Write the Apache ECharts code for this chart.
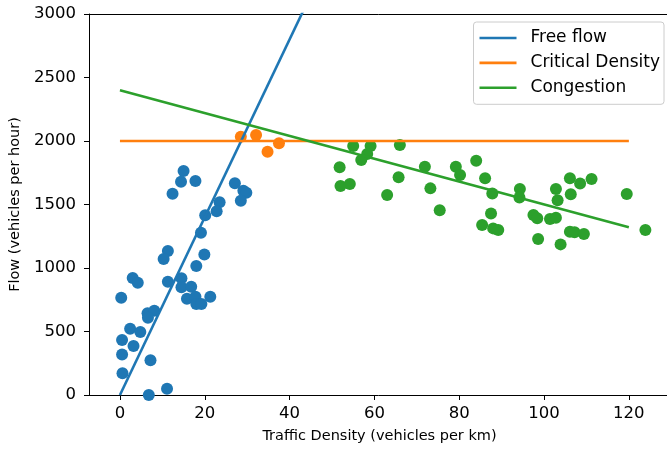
<!DOCTYPE html>
<html>
<head>
<meta charset="utf-8">
<script src="https://cdn.jsdelivr.net/npm/echarts@6/dist/echarts.min.js"></script>
<style>
  html, body { margin: 0; padding: 0; background: #fff; }
  #chart { width: 667px; height: 450px; }
</style>
</head>
<body>
<div id="chart"></div>
<script>
// scatter points: [density, flow]
const freeFlowPts = [
  [15.0, 1764], [14.4, 1680], [17.8, 1685], [12.4, 1585], [27.1, 1667],
  [29.1, 1609], [29.8, 1593], [28.5, 1530], [23.5, 1517], [22.8, 1446],
  [20.1, 1415], [19.1, 1278], [11.3, 1134], [10.3, 1071], [19.9, 1107],
  [18.0, 1016], [3.0, 921], [4.2, 884], [0.3, 766], [11.3, 892],
  [14.5, 919], [14.5, 848], [16.8, 853], [15.8, 758], [17.8, 774],
  [18.0, 717], [19.2, 717], [21.3, 774], [6.5, 643], [8.1, 664],
  [6.6, 609], [2.4, 522], [4.8, 496], [0.5, 433], [3.2, 386],
  [0.5, 318], [7.2, 273], [0.6, 171], [11.1, 50], [6.8, 0]
]
const criticalPts = [
  [28.5, 2034], [32.1, 2047], [34.8, 1916], [37.5, 1982]
]
const congestionPts = [
  [55.0, 1961], [59.1, 1961], [66.0, 1969], [58.3, 1898], [56.9, 1850],
  [51.8, 1793], [52.0, 1646], [54.2, 1661], [63.0, 1575], [65.7, 1714],
  [71.9, 1798], [73.2, 1627], [75.4, 1454], [79.2, 1798], [80.2, 1732],
  [84.0, 1845], [86.1, 1706], [87.8, 1587], [87.5, 1430], [85.4, 1339],
  [88.0, 1312], [89.2, 1299], [94.3, 1622], [94.2, 1556], [97.5, 1417],
  [98.4, 1391], [98.6, 1228], [101.4, 1386], [102.8, 1396], [102.8, 1622],
  [103.2, 1533], [103.9, 1186], [106.1, 1706], [108.5, 1666], [111.2, 1701],
  [106.3, 1580], [106.1, 1286], [107.2, 1281], [109.4, 1268], [119.5, 1583],
  [123.9, 1299]
]

// fitted lines (end points)
const freeFlowLine = [[0, 0], [50, 3500]]
const criticalLine = [[0, 2000], [120, 2000]]
const congestionLine = [[0, 2400], [120, 1320]]

const xTicks = [0, 20, 40, 60, 80, 100, 120]
const lineNames = ['Free flow', 'Critical Density', 'Congestion']

const font = 'DejaVu Sans'
const blue = '#1f77b4'
const orange = '#ff7f0e'
const green = '#2ca02c'

const chart = echarts.init(document.getElementById('chart'))

function scatter(name, data, color) {
  return {
    name,
    type: 'scatter',
    data,
    symbolSize: 12,
    z: 1,
    itemStyle: { color, opacity: 1 }
  }
}

function line(name, data, color) {
  return {
    name,
    type: 'line',
    data,
    symbol: 'none',
    showSymbol: false,
    z: 2,
    lineStyle: { color, width: 2.6 },
    itemStyle: { color }
  }
}

const option = {
  animation: false,
  backgroundColor: '#fff',
  textStyle: { fontFamily: font },
  grid: {
    left: 89,
    right: -3,
    top: 14,
    bottom: 55,
    outerBoundsMode: 'none',
    containLabel: false
  },
  legend: {
    data: lineNames,
    icon: 'rect',
    orient: 'vertical',
    right: 3,
    top: 22,
    padding: [7.5, 4, 8, 6],
    itemGap: 7.9,
    itemWidth: 37,
    itemHeight: 2.6,
    backgroundColor: 'rgba(255,255,255,0.8)',
    borderColor: '#cccccc',
    borderWidth: 1,
    borderRadius: 3,
    textStyle: {
      fontFamily: font,
      fontSize: 17,
      lineHeight: 17,
      color: '#000',
      padding: [0, 0, 0, 9]
    }
  },
  xAxis: [{
    type: 'value',
    min: -7.3,
    max: 129.7,
    name: 'Traffic Density (vehicles per km)',
    nameLocation: 'middle',
    nameGap: 34,
    nameTextStyle: { fontFamily: font, fontSize: 14.5, color: '#000' },
    axisLine: { onZero: false, lineStyle: { color: '#000', width: 1 } },
    axisTick: { customValues: xTicks, length: 5, lineStyle: { color: '#000' } },
    axisLabel: {
      customValues: xTicks,
      margin: 10,
      fontFamily: font,
      fontSize: 16.5,
      color: '#000'
    },
    splitLine: { show: false }
  }, {
    // top spine only
    type: 'value',
    position: 'top',
    min: -7.3,
    max: 129.7,
    axisLine: { show: true, onZero: false, lineStyle: { color: '#000', width: 1 } },
    axisTick: { show: false },
    axisLabel: { show: false },
    splitLine: { show: false }
  }],
  yAxis: {
    type: 'value',
    min: 0,
    max: 3000,
    interval: 500,
    name: 'Flow (vehicles per hour)',
    nameLocation: 'middle',
    nameGap: 65,
    nameTextStyle: { fontFamily: font, fontSize: 14.5, color: '#000' },
    axisLine: { show: true, onZero: false, lineStyle: { color: '#000', width: 1 } },
    axisTick: { show: true, length: 5, lineStyle: { color: '#000' } },
    axisLabel: {
      margin: 13,
      fontFamily: font,
      fontSize: 16.5,
      color: '#000',
      formatter: v => String(v)
    },
    splitLine: { show: false }
  },
  series: [
    scatter('free pts', freeFlowPts, blue),
    scatter('critical pts', criticalPts, orange),
    scatter('congestion pts', congestionPts, green),
    line(lineNames[0], freeFlowLine, blue),
    line(lineNames[1], criticalLine, orange),
    line(lineNames[2], congestionLine, green)
  ]
}

chart.setOption(option)
</script>
</body>
</html>
